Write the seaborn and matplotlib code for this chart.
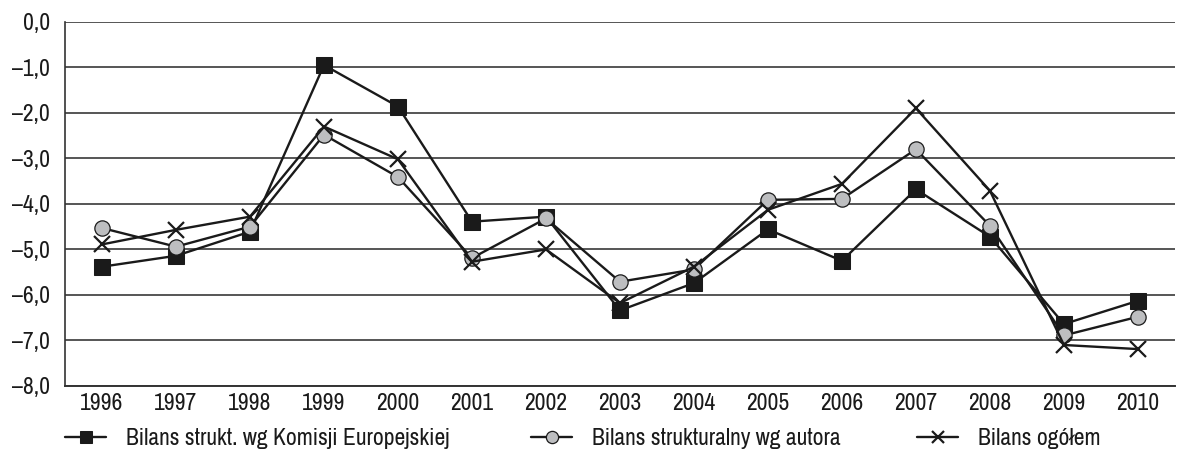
import matplotlib
matplotlib.use("Agg")
import matplotlib.pyplot as plt
from matplotlib import font_manager
import seaborn as sns
import pandas as pd
import numpy as np

years = ["1996", "1997", "1998", "1999", "2000", "2001", "2002", "2003",
         "2004", "2005", "2006", "2007", "2008", "2009", "2010"]
bilans_ke = [-5.38, -5.14, -4.61, -0.95, -1.86, -4.39, -4.28, -6.34,
             -5.74, -4.56, -5.25, -3.68, -4.72, -6.64, -6.13]
bilans_autor = [-4.53, -4.94, -4.50, -2.48, -3.41, -5.19, -4.32, -5.71,
                -5.44, -3.91, -3.89, -2.80, -4.48, -6.89, -6.48]
bilans_ogolem = [-4.89, -4.57, -4.28, -2.30, -3.02, -5.27, -5.00, -6.18,
                 -5.38, -4.13, -3.56, -1.90, -3.71, -7.10, -7.19]
series_names = ["Bilans strukt. wg Komisji Europejskiej",
                "Bilans strukturalny wg autora",
                "Bilans ogółem"]
y_ticks = [0, -1, -2, -3, -4, -5, -6, -7, -8]

sns.set_style("white")
available = sorted({f.name for f in font_manager.fontManager.ttflist})
narrow = [n for n in available if "Narrow" in n or "Condensed" in n]
family = narrow[0] if narrow else "Liberation Sans"
plt.rcParams["font.family"] = [family, "DejaVu Sans"]

df = pd.DataFrame({
    "pos": list(range(len(years))) * 3,
    "value": bilans_ke + bilans_autor + bilans_ogolem,
    "series": [series_names[0]] * len(years) + [series_names[1]] * len(years)
              + [series_names[2]] * len(years),
})

fig = plt.figure(figsize=(11.82, 4.65), dpi=100)
ax = fig.add_axes([0.055, 0.170, 0.939, 0.783])

ink = "#1a1a1a"
fs = 17
styles = {
    series_names[0]: dict(marker="s", markersize=11, markerfacecolor=ink,
                          markeredgecolor=ink),
    series_names[1]: dict(marker="o", markersize=11, markerfacecolor="#bdbec0",
                          markeredgecolor=ink, markeredgewidth=0.9),
    series_names[2]: dict(marker="x", markersize=11, markeredgewidth=1.6,
                          markeredgecolor=ink),
}
for name in series_names:
    sub = df[df["series"] == name]
    sns.lineplot(data=sub, x="pos", y="value", ax=ax, color=ink,
                 linewidth=1.7, label=name, legend=False, **styles[name])

ax.set_xlim(-0.5, len(years) - 0.5)
ax.set_ylim(-8, 0)
ax.set_yticks(y_ticks)
ax.set_yticklabels(["0,0" if v == 0 else f"\u2013{abs(v)},0" for v in y_ticks])
ax.set_xticks(range(len(years)))
ax.set_xticklabels(years)
ax.set_xticks(np.arange(0.5, len(years), 1.0), minor=True)
ax.tick_params(axis="x", which="major", length=0, pad=5, labelsize=fs, colors=ink)
ax.tick_params(axis="x", which="minor", length=7, width=1.2, direction="out", color="#333333")
ax.tick_params(axis="y", length=7, width=1.2, direction="out", pad=4, labelsize=fs,
               colors=ink)
ax.tick_params(axis="y", color="#333333")
ax.set_xlabel("")
ax.set_ylabel("")
ax.yaxis.grid(True, color="#555555", linewidth=1.4)
ax.set_axisbelow(True)
for side in ["top", "right"]:
    ax.spines[side].set_visible(False)
ax.spines["left"].set_color("#333333")
ax.spines["left"].set_linewidth(1.2)
ax.spines["bottom"].set_color("#333333")
ax.spines["bottom"].set_linewidth(1.4)

# one legend entry per block, laid out along the bottom
handles, labels = ax.get_legend_handles_labels()
legend_x = [65 / 1182, 531 / 1182, 917 / 1182]
for h, lab, x0 in zip(handles, labels, legend_x):
    fig.legend([h], [lab], loc="center left", bbox_to_anchor=(x0, 0.056),
               frameon=False, fontsize=fs, handlelength=1.75,
               handletextpad=0.85, borderpad=0, borderaxespad=0,
               markerscale=0.8, labelcolor=ink)

fig.savefig("out.png", dpi=100)
